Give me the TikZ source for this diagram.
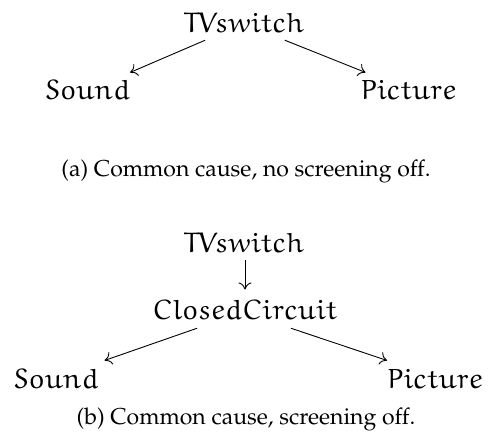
\documentclass[tikz,border=0pt]{standalone}
\usepackage[T1]{fontenc}
\usepackage{mathpazo}
\usetikzlibrary{arrows.meta}

% Euler Roman (from amsfonts) for the variable names
\IfFileExists{ueur.fd}
  {\newcommand\eulerface{\usefont{U}{eur}{m}{n}}}
  {\newcommand\eulerface{\itshape}}

\tikzset{
  var/.style={inner sep=0pt, anchor=base, font=\fontsize{28}{32}\selectfont\eulerface},
  captiontext/.style={inner sep=0pt, anchor=base, font=\fontsize{23}{27}\selectfont},
  arr/.style={line width=0.9pt, -{To[length=7pt,width=13pt]}},
}

\begin{document}
\begin{tikzpicture}[x=1pt,y=-1pt]
  \useasboundingbox (0,0) rectangle (488,435);

  % (a) common cause without a mediating variable
  \node[var] (tvA)   at (243.5,33) {TVswitch};
  \node[var] (sndA)  at (87.5,100) {Sound};
  \node[var] (picA)  at (408.5,100) {Picture};
  \draw[arr] ([shift={(22,7)}]tvA.south west) -- ([shift={(0,-8)}]sndA.north east);
  \draw[arr] ([shift={(-19,7)}]tvA.south east) -- ([shift={(5,-8)}]picA.north west);
  \node[captiontext] (capA) at (246,177) {(a) Common cause, no screening off.};

  % (b) common cause acting through a closed circuit
  \node[var] (tvB)   at (243.5,253) {TVswitch};
  \node[var] (cc)    at (245,320)   {ClosedCircuit};
  \node[var] (sndB)  at (56,389)    {Sound};
  \node[var] (picB)  at (435,389)   {Picture};
  \draw[arr] ([shift={(1.5,7)}]tvB.south) -- ([shift={(0,-11)}]cc.north);
  \draw[arr] ([shift={(45,8)}]cc.south west) -- ([shift={(6,-9)}]sndB.north east);
  \draw[arr] ([shift={(-47,8)}]cc.south east) -- ([shift={(0,-9)}]picB.north west);
  \node[captiontext] (capB) at (246,425) {(b) Common cause, screening off.};
\end{tikzpicture}
\end{document}
